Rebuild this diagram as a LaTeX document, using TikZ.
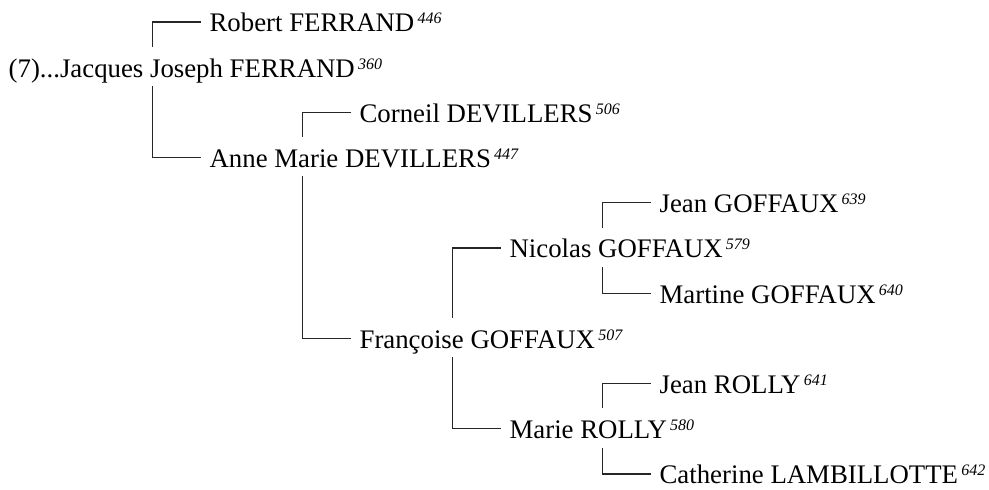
\documentclass[tikz,border=0pt]{standalone}
\usepackage{fontspec}
\setmainfont{Liberation Serif}
\usepackage{tikz}
\usetikzlibrary{calc}

\newcommand{\sosa}[1]{\hspace{1.6pt}\raisebox{4pt}{\fontsize{8pt}{9pt}\selectfont\itshape #1}}

\begin{document}
\begin{tikzpicture}[x=0.5pt, y=-0.5pt,
    person/.style={anchor=base west, inner xsep=4pt, inner ysep=0pt,
                   text height=15pt, text depth=4.25pt,
                   font=\fontsize{13.4pt}{15pt}\selectfont},
    link/.style={line width=0.6pt, black!85}]
  \useasboundingbox (0,0) rectangle (989,490);

  \node[person] (jacques)   at (0.3,77.2)   {(7)...Jacques Joseph FERRAND\sosa{360}};
  \node[person] (robert)    at (201.2,32)   {Robert FERRAND\sosa{446}};
  \node[person] (anne)      at (201.2,167.6) {Anne Marie DEVILLERS\sosa{447}};
  \node[person] (corneil)   at (351.2,122.4) {Corneil DEVILLERS\sosa{506}};
  \node[person] (francoise) at (351.2,348.4) {Françoise GOFFAUX\sosa{507}};
  \node[person] (nicolas)   at (501.2,258)   {Nicolas GOFFAUX\sosa{579}};
  \node[person] (marie)     at (501.2,438.8) {Marie ROLLY\sosa{580}};
  \node[person] (jeang)     at (651.2,212.8) {Jean GOFFAUX\sosa{639}};
  \node[person] (martine)   at (651.2,303.2) {Martine GOFFAUX\sosa{640}};
  \node[person] (jeanr)     at (651.2,393.6) {Jean ROLLY\sosa{641}};
  \node[person] (catherine) at (651.2,484)   {Catherine LAMBILLOTTE\sosa{642}};

  % fathers above, mothers below
  \foreach \p/\c in {jacques/robert, anne/corneil, francoise/nicolas,
                     nicolas/jeang, marie/jeanr}
    \draw[link] ($(\p.north -| \c.west)+(-49,0)$) |- ($(\c.base west)+(0,-10)$);
  \foreach \p/\c in {jacques/anne, anne/francoise, francoise/marie,
                     nicolas/martine, marie/catherine}
    \draw[link] ($(\p.south -| \c.west)+(-49,0)$) |- ($(\c.base west)+(0,-10)$);
\end{tikzpicture}
\end{document}
